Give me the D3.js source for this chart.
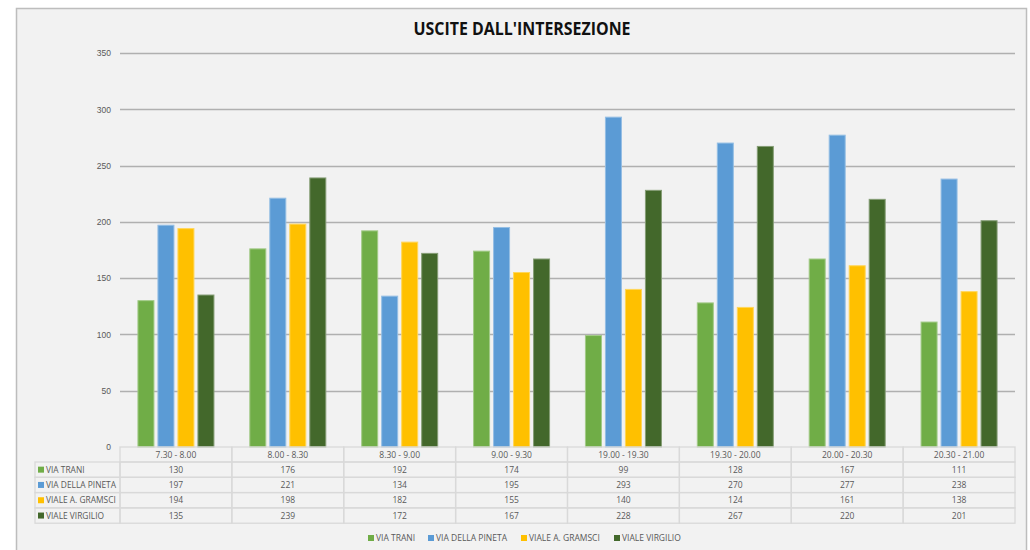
<!DOCTYPE html>
<html>
<head>
<meta charset="utf-8">
<script src="https://cdn.jsdelivr.net/npm/d3@7"></script>
<style>
  html, body { margin: 0; padding: 0; background: #ffffff; }
  svg { display: block; font-family: "Open Sans", "Liberation Sans", sans-serif; }
</style>
</head>
<body>
<svg id="chart" width="1030" height="550"></svg>
<script>
// Time slots (categories)
const slots = ["7.30 - 8.00", "8.00 - 8.30", "8.30 - 9.00", "9.00 - 9.30",
               "19.00 - 19.30", "19.30 - 20.00", "20.00 - 20.30", "20.30 - 21.00"];

// Exits per street
const seriesNames = ["VIA TRANI", "VIA DELLA PINETA", "VIALE A. GRAMSCI", "VIALE VIRGILIO"];
const viaTrani       = [130, 176, 192, 174,  99, 128, 167, 111];
const viaDellaPineta = [197, 221, 134, 195, 293, 270, 277, 238];
const vialeGramsci   = [194, 198, 182, 155, 140, 124, 161, 138];
const vialeVirgilio  = [135, 239, 172, 167, 228, 267, 220, 201];
const seriesColors = ["#70ad47", "#5b9bd5", "#ffc000", "#43682b"];

const yTicks = [0, 50, 100, 150, 200, 250, 300, 350];
const title = "USCITE DALL'INTERSEZIONE";

const series = [viaTrani, viaDellaPineta, vialeGramsci, vialeVirgilio].map((vals, i) => ({
  name: seriesNames[i], color: seriesColors[i], values: vals
}));

const svg = d3.select("#chart");

// Chart area frame
svg.append("rect")
  .attr("x", 16.5).attr("y", 8.5).attr("width", 1010).attr("height", 545)
  .attr("fill", "#f2f2f2").attr("stroke", "#bdbdbd").attr("stroke-width", 1.5);

// Title
svg.append("text")
  .attr("x", 522).attr("y", 35)
  .attr("text-anchor", "middle")
  .attr("font-size", 17).attr("font-weight", "bold").attr("fill", "#111")
  .attr("textLength", 217).attr("lengthAdjust", "spacingAndGlyphs")
  .text(title);

const plot = { left: 120, right: 1015, top: 53, bottom: 447 };

const x = d3.scaleBand().domain(slots).range([plot.left, plot.right]).paddingInner(0).paddingOuter(0);
const y = d3.scaleLinear().domain([0, 350]).range([plot.bottom, plot.top]);
const barW = 16, barStep = 20;
const xs = d3.scaleBand().domain(seriesNames).range([0, barStep * 4]);

// Value axis with gridlines
const yAxis = d3.axisLeft(y).tickValues(yTicks).tickSize(0).tickPadding(0);
const yg = svg.append("g").attr("transform", `translate(${plot.left - 9},0)`).call(yAxis);
yg.select(".domain").remove();
yg.selectAll("text").attr("font-size", 8.5).attr("fill", "#595959").attr("text-anchor", "end").attr("dx", 0);

svg.append("g").selectAll("line")
  .data(yTicks.filter(t => t > 0))
  .join("line")
  .attr("x1", plot.left).attr("x2", plot.right)
  .attr("y1", d => Math.round(y(d)) + 0.5).attr("y2", d => Math.round(y(d)) + 0.5)
  .attr("stroke", "#b0b0b0").attr("stroke-width", 1.4);

// Bars
const groups = svg.append("g").selectAll("g")
  .data(series)
  .join("g");
groups.selectAll("rect")
  .data(s => s.values.map((v, i) => ({ v, slot: slots[i], s })))
  .join("rect")
  .attr("x", d => x(d.slot) + x.bandwidth() / 2 - barStep * 2 + xs(d.s.name) + (barStep - barW) / 2)
  .attr("width", barW)
  .attr("y", d => y(d.v))
  .attr("height", d => y(0) - y(d.v))
  .attr("fill", d => d.s.color)
  .attr("stroke", d => d3.interpolateRgb(d.s.color, "#ffffff")(0.35))
  .attr("stroke-width", 1);

// Data table below the plot
const rowTop = plot.bottom, headerH = 15, rowH = 15.3;
const tableLeft = 35;
const tbl = svg.append("g");
const gridColor = "#d9d9d9";

// header cells (categories)
tbl.selectAll("rect.hdr")
  .data(slots)
  .join("rect")
  .attr("class", "hdr")
  .attr("x", d => x(d)).attr("y", rowTop)
  .attr("width", x.bandwidth()).attr("height", headerH)
  .attr("fill", "none").attr("stroke", gridColor).attr("stroke-width", 1.3);
tbl.selectAll("text.hdr")
  .data(slots)
  .join("text")
  .attr("class", "hdr")
  .attr("x", d => x(d) + x.bandwidth() / 2).attr("y", rowTop + headerH / 2 + 3)
  .attr("text-anchor", "middle").attr("font-size", 8.5).attr("fill", "#595959")
  .text(d => d);

series.forEach((s, r) => {
  const ry = rowTop + headerH + r * rowH;
  tbl.append("rect")
    .attr("x", tableLeft).attr("y", ry).attr("width", plot.left - tableLeft).attr("height", rowH)
    .attr("fill", "none").attr("stroke", gridColor).attr("stroke-width", 1.3);
  tbl.append("rect")
    .attr("x", tableLeft + 3).attr("y", ry + rowH / 2 - 3).attr("width", 6).attr("height", 6)
    .attr("fill", s.color);
  tbl.append("text")
    .attr("x", tableLeft + 11).attr("y", ry + rowH / 2 + 3)
    .attr("font-size", 8.4).attr("fill", "#595959")
    .text(s.name);
  slots.forEach((slot, i) => {
    tbl.append("rect")
      .attr("x", x(slot)).attr("y", ry).attr("width", x.bandwidth()).attr("height", rowH)
      .attr("fill", "none").attr("stroke", gridColor).attr("stroke-width", 1.3);
    tbl.append("text")
      .attr("x", x(slot) + x.bandwidth() / 2).attr("y", ry + rowH / 2 + 3)
      .attr("text-anchor", "middle").attr("font-size", 8.5).attr("fill", "#595959")
      .text(s.values[i]);
  });
});

// Legend
const legendX = [368, 428, 521, 614];
const lg = svg.append("g").selectAll("g")
  .data(series)
  .join("g")
  .attr("transform", (d, i) => `translate(${legendX[i]},538)`);
lg.append("rect").attr("x", 0).attr("y", -3).attr("width", 6).attr("height", 6).attr("fill", d => d.color);
lg.append("text").attr("x", 8).attr("y", 3).attr("font-size", 8.5).attr("fill", "#595959").text(d => d.name);
</script>
</body>
</html>
